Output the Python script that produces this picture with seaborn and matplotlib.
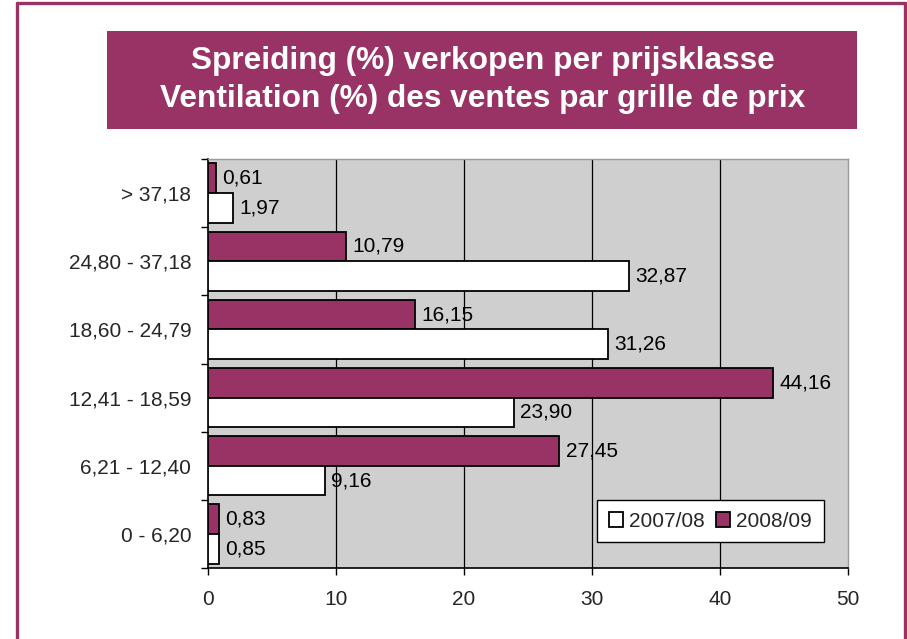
import pandas as pd
import seaborn as sns
import matplotlib.pyplot as plt
from matplotlib.patches import Rectangle
from matplotlib.lines import Line2D

# categories top to bottom
klassen = ["> 37,18", "24,80 - 37,18", "18,60 - 24,79", "12,41 - 18,59", "6,21 - 12,40", "0 - 6,20"]
v_2007 = [1.97, 32.87, 31.26, 23.90, 9.16, 0.85]
v_2008 = [0.61, 10.79, 16.15, 44.16, 27.45, 0.83]
jaren = ["2007/08", "2008/09"]
x_ticks = [0, 10, 20, 30, 40, 50]

MAROON = "#993366"
FS = 15

df = pd.DataFrame({
    "klasse": klassen * 2,
    "jaar": [jaren[0]] * len(klassen) + [jaren[1]] * len(klassen),
    "pct": v_2007 + v_2008,
})

sns.set_style("white")
plt.rcParams["font.family"] = ["Liberation Sans", "DejaVu Sans"]

fig = plt.figure(figsize=(9.07, 6.39), dpi=100)
ax = fig.add_axes([208 / 907, 1 - 568 / 639, 640 / 907, 409 / 639])

# grey plot area
ax.set_facecolor("#cfcfcf")

sns.barplot(data=df, y="klasse", x="pct", hue="jaar", order=klassen,
            hue_order=["2008/09", "2007/08"],
            palette={"2008/09": MAROON, "2007/08": "white"}, saturation=1,
            edgecolor="black", linewidth=1.3, width=0.87, gap=0,
            orient="h", ax=ax, zorder=3)

# value labels
for cont in ax.containers:
    vals = [b.get_width() for b in cont]
    ax.bar_label(cont, labels=[f"{v:.2f}".replace(".", ",") for v in vals],
                 padding=4.5, fontsize=FS, color="black", zorder=4)

ax.set_xlim(0, 50)
ax.set_xticks(x_ticks)
ax.set_xticklabels([str(t) for t in x_ticks], fontsize=FS)
ax.set_xlabel("")
ax.set_ylabel("")

# vertical grid
ax.grid(False)
for t in x_ticks[1:-1]:
    ax.axvline(t, color="black", lw=0.9, zorder=1)

# y tick marks between categories, labels at centres
ax.set_yticks(range(len(klassen)))
ax.set_yticklabels(klassen, fontsize=FS)
ax.set_yticks([i - 0.5 for i in range(len(klassen) + 1)], minor=True)
ax.tick_params(axis="y", which="major", length=0, pad=12)
ax.tick_params(axis="y", which="minor", length=5, width=1, color="black", left=True)
ax.tick_params(axis="x", length=5, width=1, color="black", bottom=True, pad=11)

for s in ["left", "bottom"]:
    ax.spines[s].set_color("black")
    ax.spines[s].set_linewidth(1.2)
for s in ["top", "right"]:
    ax.spines[s].set_color("#9a9a9a")
    ax.spines[s].set_linewidth(1)

# legend: 2007/08 first
h, l = ax.get_legend_handles_labels()
order = [l.index("2007/08"), l.index("2008/09")]
leg = ax.legend([h[i] for i in order], [l[i] for i in order], ncol=2,
                loc="lower right", bbox_to_anchor=(0.962, 0.063),
                fontsize=FS, frameon=True, fancybox=False, framealpha=1,
                edgecolor="black", handlelength=0.7, handleheight=0.7,
                handletextpad=0.3, columnspacing=0.5, borderpad=0.55,
                borderaxespad=0)
leg.get_frame().set_linewidth(1)
leg.set_zorder(5)

# title box
fig.patches.append(Rectangle((107 / 907, 1 - 129 / 639), 750 / 907, 98 / 639,
                             transform=fig.transFigure, facecolor=MAROON,
                             edgecolor="none", zorder=0))
fig.text(483 / 907, 1 - 80 / 639,
         "Spreiding (%) verkopen per prijsklasse\nVentilation (%) des ventes par grille de prix",
         ha="center", va="center", color="white", fontsize=22.8, fontweight="bold",
         linespacing=1.38)

# outer frame (left, top, right)
kw = dict(color=MAROON, lw=2.4, transform=fig.transFigure)
fig.lines.append(Line2D([16.5 / 907, 16.5 / 907], [0, 1 - 2.5 / 639], **kw))
fig.lines.append(Line2D([16.5 / 907, 904.5 / 907], [1 - 2.5 / 639, 1 - 2.5 / 639], **kw))
fig.lines.append(Line2D([904.5 / 907, 904.5 / 907], [0, 1 - 2.5 / 639], **kw))

fig.savefig("out.png", dpi=100)
plt.close(fig)
